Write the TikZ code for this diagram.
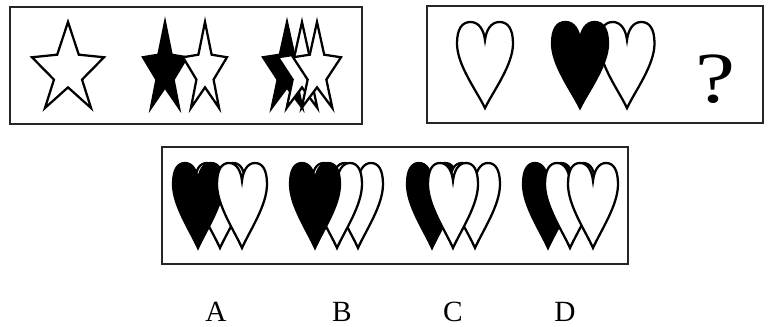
\documentclass[tikz,border=0pt]{standalone}
\usepackage{fontspec}
\setmainfont{Liberation Serif}
\tikzset{
  boxline/.style={line width=1.6pt, draw=black!85},
  shapeline/.style={line width=1.7pt, draw=black, line join=miter},
  lbl/.style={anchor=base, inner sep=0pt, font=\fontsize{22}{24}\selectfont},
}
\newcommand\mystar[5]{\draw[shapeline,fill=#5,shift={(#1,#2)},xscale=#3,yscale=#4]
  (0,0) -- (0.3,0.38) -- (1,0.41) -- (0.39,0.67) -- (0.64,1) -- (0,0.76)
  -- (-0.64,1) -- (-0.39,0.67) -- (-1,0.41) -- (-0.3,0.38) -- cycle;}
\newcommand\myheart[5]{\draw[shapeline,fill=#5,shift={(#1,#2)},xscale=#3,yscale=#4]
  (0,0) .. controls (-0.15,-0.2) and (-0.5,-0.5) .. (-0.5,-0.75)
  .. controls (-0.5,-0.92) and (-0.41,-1) .. (-0.26,-1)
  .. controls (-0.1,-1) and (-0.02,-0.9) .. (0,-0.79)
  .. controls (0.02,-0.9) and (0.1,-1) .. (0.26,-1)
  .. controls (0.41,-1) and (0.5,-0.92) .. (0.5,-0.75)
  .. controls (0.5,-0.5) and (0.15,-0.2) .. (0,0) -- cycle;}
\begin{document}
\begin{tikzpicture}[x=0.75pt,y=-0.75pt]
\useasboundingbox (0,0) rectangle (770,326);
% boxes
\draw[boxline] (10,7) rectangle (362,124);
\draw[boxline] (427,6) rectangle (763,123);
\draw[boxline] (162,147) rectangle (628,264);
% stars
\mystar{68}{22}{36}{86}{white}
\mystar{165}{22}{22}{86}{black}
\mystar{205}{22}{22}{86}{white}
\mystar{287}{22}{24}{86}{black}
\mystar{302}{22}{24}{86}{white}
\mystar{317}{22}{24}{86}{white}
% hearts, top box
\myheart{485}{108}{56}{86}{white}
\myheart{627}{108}{55}{86}{white}
\myheart{580}{108}{56}{86}{black}
\node[inner sep=0pt, anchor=base, font=\fontsize{54}{56}\selectfont] (q) at (715,102) {\scalebox{1.25}[1]{?}};
% option A
\myheart{220}{248}{50}{85}{white}
\myheart{198}{248}{50}{85}{black}
\myheart{242}{248}{50}{85}{white}
% option B
\myheart{358}{248}{50}{85}{white}
\myheart{337}{248}{50}{85}{white}
\myheart{315}{248}{50}{85}{black}
% option C
\myheart{432}{248}{50}{85}{black}
\myheart{475}{248}{50}{85}{white}
\myheart{453}{248}{50}{85}{white}
% option D
\myheart{548}{248}{50}{85}{black}
\myheart{570}{248}{50}{85}{white}
\myheart{593}{248}{50}{85}{white}
% labels
\node[lbl] (la) at (216,321) {A};
\node[lbl] (lb) at (342,321) {B};
\node[lbl] (lc) at (453,321) {C};
\node[lbl] (ld) at (565,321) {D};
\end{tikzpicture}
\end{document}
